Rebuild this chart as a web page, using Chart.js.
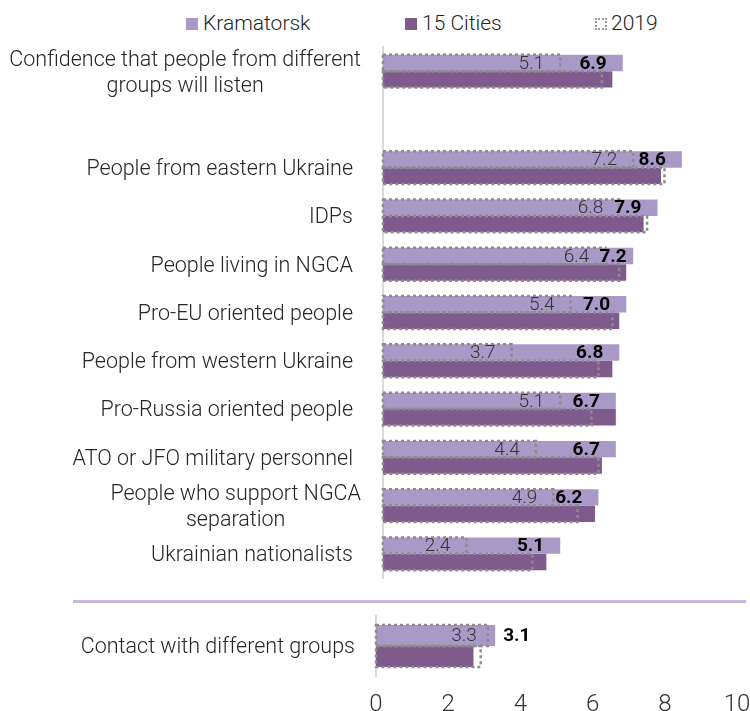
<!DOCTYPE html>
<html><head><meta charset="utf-8">
<script src="https://cdn.jsdelivr.net/npm/chart.js@4.4.1/dist/chart.umd.min.js"></script>
<style>
html,body{margin:0;padding:0;background:#fff;}
#wrap{position:relative;width:750px;height:711px;overflow:hidden;font-family:Roboto,"Noto Sans",sans-serif;}
canvas{position:absolute;left:0;}
#c1{top:0;}
#c2{top:590px;}
.leg{position:absolute;top:11px;font-size:21px;font-weight:300;color:#262626;line-height:24px;white-space:nowrap;}
.sw{position:absolute;top:18px;width:12px;height:12px;box-sizing:border-box;}
.sep{position:absolute;left:73px;top:600px;width:673px;height:3px;background:#c9b6dc;z-index:2;}
</style></head><body>
<div id="wrap">
  <span class="sw" style="left:186px;background:#A899C7"></span><span class="leg" style="left:203px">Kramatorsk</span>
  <span class="sw" style="left:405px;background:#7F5A8C"></span><span class="leg" style="left:422px">15 Cities</span>
  <span class="sw" style="left:595px;border:2px dotted #9a9a9a"></span><span class="leg" style="left:611px">2019</span>
  <canvas id="c1" width="750" height="600"></canvas>
  <div class="sep"></div>
  <canvas id="c2" width="750" height="121"></canvas>
</div>
<script>
// ---- data ----
const categories = [['Confidence that people from different','groups will listen'], '', 'People from eastern Ukraine', 'IDPs', 'People living in NGCA', 'Pro-EU oriented people', 'People from western Ukraine', 'Pro-Russia oriented people', 'ATO or JFO military personnel', ['People who support NGCA','separation'], 'Ukrainian nationalists'];
const kramatorsk     = [6.9, null, 8.6, 7.9, 7.2, 7.0, 6.8, 6.7, 6.7, 6.2, 5.1];
const kramatorsk2019 = [5.1, null, 7.2, 6.8, 6.4, 5.4, 3.7, 5.1, 4.4, 4.9, 2.4];
const cities15       = [6.6, null, 8.0, 7.5, 7.0, 6.8, 6.6, 6.7, 6.3, 6.1, 4.7];
const cities2019     = [6.3, null, 8.1, 7.6, 6.8, 6.6, 6.2, 6.0, 6.2, 5.6, 4.3];

const contactCategory       = ['Contact with different groups'];
const contactKramatorsk     = [3.3];
const contactKramatorsk2019 = [3.1];
const contactCities15       = [2.7];
const contactCities2019     = [2.9];
const contactKramLabels     = ['3.1'];
const contactKram2019Labels = ['3.3'];
const xTicks = [0, 2, 4, 6, 8, 10];

const LIGHT = '#A899C7', DARK = '#7F5A8C', DOT = '#8c8c8c';
const FONT = 'Roboto, "Noto Sans", sans-serif';
const BOLD = 'bold 19px ' + FONT, REG = '300 19px ' + FONT;

const overlay = {
  id: 'overlay',
  afterDatasetsDraw(chart, args, o) {
    const ctx = chart.ctx;
    ctx.save();
    ctx.strokeStyle = DOT; ctx.lineWidth = 2.5; ctx.setLineDash([3, 3]);
    chart.data.datasets.forEach((ds, i) => {
      if (!ds.dotted) return;
      chart.getDatasetMeta(i).data.forEach((el, j) => {
        if (ds.data[j] == null) return;
        const p = el.getProps(['x', 'y', 'base', 'height'], true);
        ctx.strokeRect(p.base, p.y - p.height / 2, p.x - p.base, p.height);
      });
    });
    ctx.restore();
    // value labels: regular (2019) labels first, then bold labels avoiding overlap
    ctx.save();
    ctx.textBaseline = 'middle';
    const regRight = {};
    chart.data.datasets.forEach((ds, i) => {
      if (ds.lbl !== 'reg') return;
      chart.getDatasetMeta(i).data.forEach((el, j) => {
        if (ds.data[j] == null) return;
        const p = el.getProps(['x', 'y'], true);
        const txt = ds.lblText ? ds.lblText[j] : ds.data[j].toFixed(1);
        ctx.font = REG; ctx.fillStyle = '#333'; ctx.textAlign = 'right';
        const r = p.x - (ds.lblOff != null ? ds.lblOff : 16);
        ctx.fillText(txt, r, p.y + 1);
        regRight[j] = r;
      });
    });
    chart.data.datasets.forEach((ds, i) => {
      if (ds.lbl !== 'bold') return;
      chart.getDatasetMeta(i).data.forEach((el, j) => {
        if (ds.data[j] == null) return;
        const p = el.getProps(['x', 'y'], true);
        const txt = ds.lblText ? ds.lblText[j] : ds.data[j].toFixed(1);
        ctx.font = BOLD; ctx.fillStyle = '#000';
        if (ds.pos === 'outside') { ctx.textAlign = 'left'; ctx.fillText(txt, p.x + 8, p.y + 1); return; }
        const w = ctx.measureText(txt).width;
        let r = p.x - 16;
        if (regRight[j] != null && r - w < regRight[j] + 10) r = regRight[j] + 10 + w;
        ctx.textAlign = 'right'; ctx.fillText(txt, r, p.y + 1);
      });
    });
    ctx.restore();
  },
  afterDraw(chart, args, o) {
    const ctx = chart.ctx, ys = chart.scales.y;
    ctx.save();
    ctx.font = '300 21.5px ' + FONT; ctx.fillStyle = '#262626';
    ctx.textAlign = 'center'; ctx.textBaseline = 'middle';
    chart.data.labels.forEach((lab, i) => {
      const lines = Array.isArray(lab) ? lab : [lab];
      const w = Math.max(...lines.map(l => ctx.measureText(l).width));
      const yc = ys.getPixelForValue(i) + 2;
      const right = lines.length > 1 ? o.rightMulti : o.right;
      lines.forEach((l, k) => {
        ctx.fillText(l, right - w / 2, yc + (k - (lines.length - 1) / 2) * 26);
      });
    });
    ctx.restore();
  }
};

function ds(label, data, color, stack, extra) {
  return Object.assign({ label, data, backgroundColor: color, borderWidth: 0, stack,
    categoryPercentage: 0.68, barPercentage: 1 }, extra || {});
}

new Chart(document.getElementById('c1'), {
  type: 'bar',
  data: {
    labels: categories,
    datasets: [
      ds('Kramatorsk', kramatorsk, LIGHT, 'k', { lbl: 'bold' }),
      ds('Kramatorsk 2019', kramatorsk2019, 'rgba(0,0,0,0)', 'k', { dotted: true, lbl: 'reg' }),
      ds('15 Cities', cities15, DARK, 'c'),
      ds('15 Cities 2019', cities2019, 'rgba(0,0,0,0)', 'c', { dotted: true })
    ]
  },
  options: {
    indexAxis: 'y', responsive: false, animation: false,
    layout: { padding: { top: 47, bottom: 22, left: 0, right: 19.5 } },
    scales: {
      x: { min: 0, max: 10, display: false, stacked: false },
      y: { stacked: true, grid: { display: false }, border: { display: true, color: '#d9d9d9', width: 2 },
           ticks: { display: false }, afterFit(s) { s.width = 383; } }
    },
    plugins: { legend: { display: false }, tooltip: { enabled: false }, overlay: { right: 353, rightMulti: 361 } }
  },
  plugins: [overlay]
});

new Chart(document.getElementById('c2'), {
  type: 'bar',
  data: {
    labels: contactCategory,
    datasets: [
      ds('Kramatorsk', contactKramatorsk, LIGHT, 'k', { lbl: 'bold', pos: 'outside', lblText: contactKramLabels, categoryPercentage: 0.7 }),
      ds('Kramatorsk 2019', contactKramatorsk2019, 'rgba(0,0,0,0)', 'k', { dotted: true, lbl: 'reg', lblOff: 11, lblText: contactKram2019Labels, categoryPercentage: 0.7 }),
      ds('15 Cities', contactCities15, DARK, 'c', { categoryPercentage: 0.7 }),
      ds('15 Cities 2019', contactCities2019, 'rgba(0,0,0,0)', 'c', { dotted: true, categoryPercentage: 0.7 })
    ]
  },
  options: {
    indexAxis: 'y', responsive: false, animation: false,
    layout: { padding: { top: 26, bottom: 0, left: 0, right: 0 } },
    scales: {
      x: { min: 0, max: 10, stacked: false, grid: { display: false, drawTicks: false }, border: { display: false },
           afterBuildTicks(s) { s.ticks = xTicks.map(v => ({ value: v })); },
           ticks: { font: { family: FONT, size: 24, weight: 300 }, color: '#333', padding: 15, maxRotation: 0 },
           afterFit(s) { s.height = 35; s.paddingRight = 13; s.paddingLeft = 0; } },
      y: { stacked: true, grid: { display: false }, border: { display: true, color: '#d9d9d9', width: 2 },
           ticks: { display: false }, afterFit(s) { s.width = 376; } }
    },
    plugins: { legend: { display: false }, tooltip: { enabled: false }, overlay: { right: 355, rightMulti: 355 } }
  },
  plugins: [overlay]
});
</script>
</body></html>
